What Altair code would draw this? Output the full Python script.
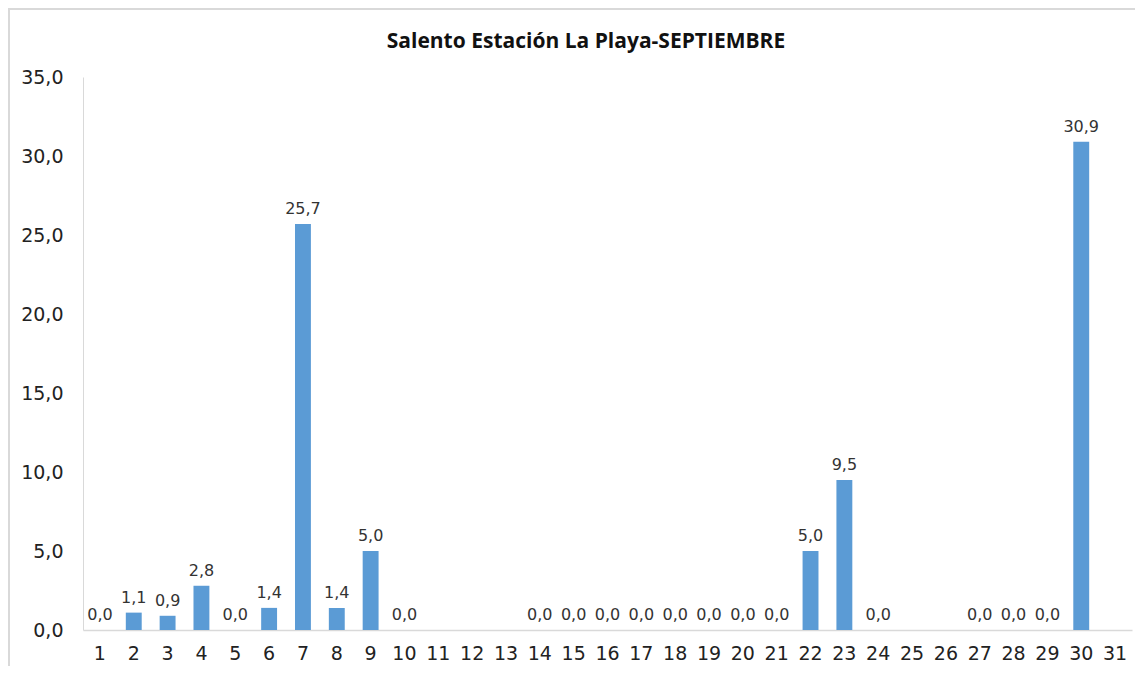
import altair as alt
import pandas as pd

days = [str(d) for d in range(1, 32)]
values = [0.0, 1.1, 0.9, 2.8, 0.0, 1.4, 25.7, 1.4, 5.0, 0.0,
          None, None, None, 0.0, 0.0, 0.0, 0.0, 0.0, 0.0, 0.0,
          0.0, 5.0, 9.5, 0.0, None, None, 0.0, 0.0, 0.0, 30.9, None]
title_text = "Salento Estación La Playa-SEPTIEMBRE"

labels = [None if v is None else f"{v:.1f}".replace(".", ",") for v in values]
df = pd.DataFrame({"dia": days, "valor": values, "etiqueta": labels})
df_valid = df.dropna(subset=["valor"])

W, H = 1049, 553
x_enc = alt.X("dia:N", sort=days,
              scale=alt.Scale(domain=days, paddingInner=0.53, paddingOuter=0.265),
              axis=alt.Axis(title=None, labelAngle=0, ticks=False, domainColor="#D9D9D9",
                            domainWidth=1.5, labelFont="DejaVu Sans", labelFontSize=19,
                            labelColor="#222222", labelPadding=14))

base = alt.Chart(df_valid)

bars = base.mark_bar(color="#5B9BD5").encode(
    x=x_enc,
    y=alt.Y("valor:Q", scale=alt.Scale(domain=[0, 35]),
            axis=alt.Axis(title=None, values=[0, 5, 10, 15, 20, 25, 30, 35], grid=False,
                          ticks=False, domainColor="#D9D9D9", domainWidth=1,
                          labelExpr="replace(format(datum.value, '.1f'), '.', ',')",
                          labelFont="DejaVu Sans", labelFontSize=19, labelColor="#222222",
                          labelPadding=20)),
)

text = base.mark_text(baseline="bottom", dy=-7, font="DejaVu Sans", fontSize=16,
                      color="#333333").encode(
    x=alt.X("dia:N", sort=days),
    y="valor:Q",
    text="etiqueta:N",
)

one = pd.DataFrame({"t": [title_text]})

border = alt.Chart(one).mark_rect(
    fill=None, stroke="#D9D9D9", strokeWidth=2
).encode(
    x=alt.value(-74), x2=alt.value(1200), y=alt.value(-68), y2=alt.value(720)
)

title = alt.Chart(one).mark_text(
    font="Open Sans", fontSize=21, fontWeight="bold", color="#111111",
    align="center", baseline="alphabetic"
).encode(x=alt.value(503), y=alt.value(-29), text="t:N")

chart = alt.layer(border, bars, text, title).properties(
    width=W, height=H,
    autosize=alt.AutoSizeParams(type="none"),
    padding={"left": 75, "top": 69, "right": 3, "bottom": 36},
).configure_view(stroke=None)

chart.save("out.html", embed_options={"renderer": "svg", "actions": False})
